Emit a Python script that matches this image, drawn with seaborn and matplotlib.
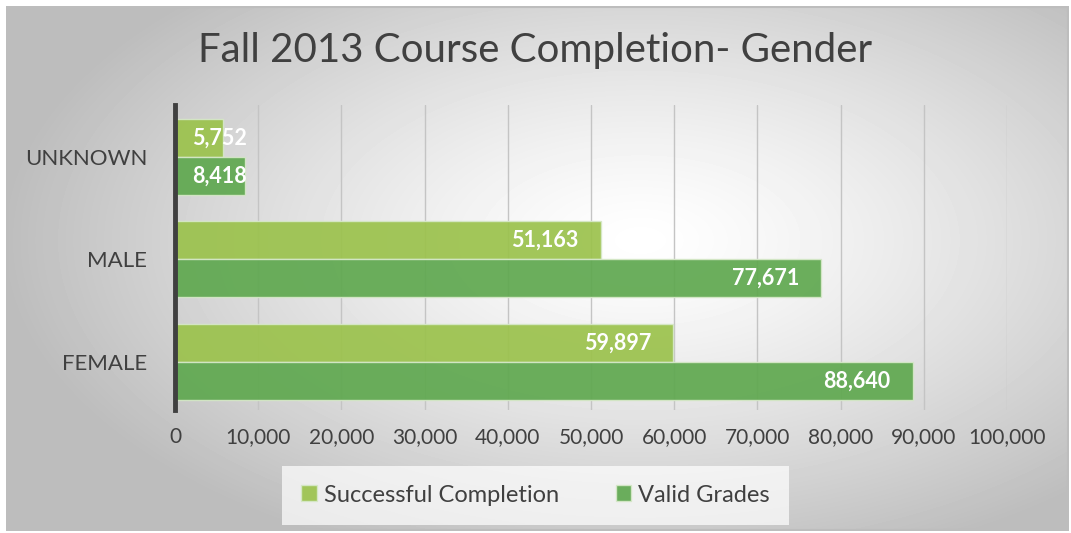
import numpy as np
import pandas as pd
import matplotlib.pyplot as plt
import seaborn as sns

# --- DADOS ---
categorias = ["UNKNOWN", "MALE", "FEMALE"]
successful = [5752, 51163, 59897]
valid = [8418, 77671, 88640]
series = ["Successful Completion", "Valid Grades"]
cores = ["#9BC24C", "#5FA84F"]
ticks = list(range(0, 100001, 10000))

df = pd.DataFrame({
    "categoria": categorias * 2,
    "valor": successful + valid,
    "serie": [series[0]] * 3 + [series[1]] * 3,
})

sns.set_theme(style="white")
plt.rcParams['font.family'] = ['Lato', 'DejaVu Sans']
TXT = "#404040"

fig = plt.figure(figsize=(10.71, 5.33), dpi=100)

# fundo com gradiente radial
bg = fig.add_axes([0, 0, 1, 1], zorder=-10)
yy, xx = np.mgrid[0:533, 0:1071]
d = np.sqrt(((xx - 640) / 620.0) ** 2 + ((yy - 240) / 330.0) ** 2)
g = np.clip(1.0 - 0.25 * d ** 1.3, 0.74, 1.0)
bg.imshow(g, cmap="gray", vmin=0, vmax=1, extent=[0, 1071, 533, 0], aspect="auto")
bg.add_patch(plt.Rectangle((7, 7), 1061, 523, fill=False, edgecolor="#bdbdbd", lw=1.5))
bg.set_xlim(-0.5, 1071); bg.set_ylim(533, 0)
# margem branca
for r in [(0, 0, 1071, 6), (0, 531, 1071, 3), (0, 0, 6, 533), (1069, 0, 3, 533)]:
    bg.add_patch(plt.Rectangle(r[:2], r[2], r[3], color="white", lw=0))
bg.axis("off")

ax = fig.add_axes([0.1634, 0.2308, 0.7769, 0.5722])
ax.patch.set_alpha(0)
sns.barplot(data=df, y="categoria", x="valor", hue="serie", order=categorias,
            hue_order=series, palette=cores, orient="h", width=0.74, saturation=1,
            alpha=0.92, edgecolor="#d6e8c8", linewidth=1, ax=ax, zorder=3)

ax.set_xlim(0, 100000)
ax.set_ylim(2.47, -0.505)
ax.set_xticks(ticks)
ax.set_xticklabels([f"{t:,}" for t in ticks], fontsize=15, color=TXT)
ax.tick_params(axis="x", pad=12, length=0)
ax.tick_params(axis="y", pad=20, length=0)
ax.set_yticks(range(len(categorias)))
ax.set_yticklabels(categorias, fontsize=16, color=TXT)
ax.set_xlabel(""); ax.set_ylabel("")
ax.xaxis.grid(True, color="#c4c4c4", lw=1, zorder=0)
ax.set_axisbelow(True)
for s in ["top", "right", "bottom"]:
    ax.spines[s].set_visible(False)
ax.spines["left"].set_color("#404040")
ax.spines["left"].set_linewidth(3.5)
ax.spines["left"].set_zorder(5)

# rótulos de valor
for cont in ax.containers:
    for p in cont.patches:
        w = p.get_width()
        yc = p.get_y() + p.get_height() / 2
        if w < 12000:
            ax.annotate(f"{int(w):,}", (0, yc), xytext=(17, 0), textcoords="offset pixels",
                        ha="left", va="center", color="white", fontsize=15.5, fontweight="bold", zorder=6)
        else:
            ax.annotate(f"{int(w):,}", (w, yc), xytext=(-22, 0), textcoords="offset pixels",
                        ha="right", va="center", color="white", fontsize=15.5, fontweight="bold", zorder=6)

ax.legend_.remove()
h, l = ax.get_legend_handles_labels()
leg = fig.legend(h, l, loc="center", bbox_to_anchor=(0.5, 0.071), ncol=2, frameon=True,
                 fontsize=17, handlelength=0.65, handleheight=0.65, handletextpad=0.3,
                 columnspacing=2.4, borderpad=0.5)
leg.get_frame().set_facecolor("white")
leg.get_frame().set_alpha(0.7)
leg.get_frame().set_edgecolor("none")
leg.get_frame().set_boxstyle("square")
for t in leg.get_texts():
    t.set_color(TXT)

fig.text(0.5, 0.905, "Fall 2013 Course Completion- Gender", ha="center", va="center",
         fontsize=29, color=TXT)

fig.savefig("out.png", dpi=100)
